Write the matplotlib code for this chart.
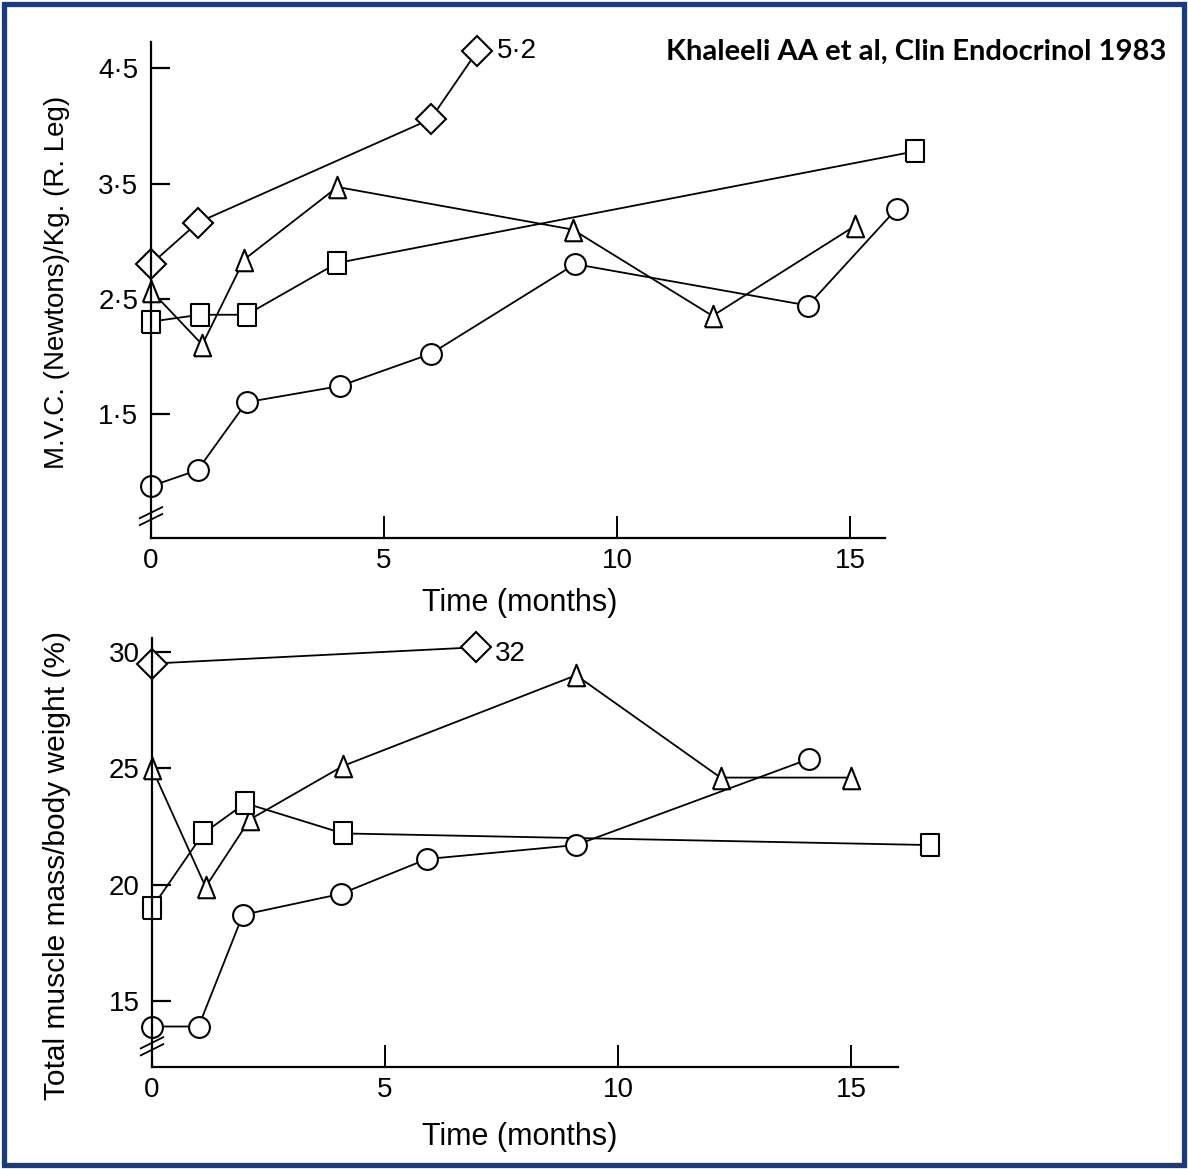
import matplotlib.pyplot as plt
from matplotlib.patches import Rectangle

plt.rcParams['font.family'] = ['Liberation Sans', 'DejaVu Sans']

# MVC per kg, right leg (top panel)
mvc_diamond_t = [0, 1, 6, 7]
mvc_diamond = [2.80, 3.16, 4.06, 4.65]
mvc_triangle_t = [0, 1.1, 2, 4, 9.05, 12.05, 15.1]
mvc_triangle = [2.57, 2.10, 2.84, 3.47, 3.10, 2.35, 3.13]
mvc_square_t = [0, 1.05, 2.05, 4, 16.4]
mvc_square = [2.30, 2.36, 2.36, 2.81, 3.78]
mvc_circle_t = [0, 1, 2.05, 4.05, 6, 9.1, 14.1, 16.0]
mvc_circle = [0.87, 1.01, 1.60, 1.74, 2.02, 2.80, 2.44, 3.28]

# total muscle mass / body weight in % (bottom panel)
mm_diamond_t = [0, 6.95]
mm_diamond = [29.5, 30.2]
mm_triangle_t = [0, 1.15, 2.1, 4.1, 9.1, 12.2, 15.0]
mm_triangle = [25.0, 19.9, 22.8, 25.1, 29.0, 24.6, 24.6]
mm_square_t = [0, 1.1, 2.0, 4.1, 16.7]
mm_square = [19.0, 22.2, 23.5, 22.2, 21.7]
mm_circle_t = [0, 1.0, 1.95, 4.05, 5.9, 9.1, 14.1]
mm_circle = [13.9, 13.9, 18.7, 19.6, 21.1, 21.7, 25.4]

top_ticks = [1.5, 2.5, 3.5, 4.5]
top_ticklabels = ['1·5', '2·5', '3·5', '4·5']
bot_ticks = [15, 20, 25, 30]
x_ticks = [0, 5, 10, 15]

W, H = 1188, 1169
fig = plt.figure(figsize=(W / 100, H / 100), dpi=100)

# navy frame round the slide
fig.patches.append(Rectangle((4 / W, 4 / H), 1 - 8 / W, 1 - 8 / H, transform=fig.transFigure,
                             fill=False, edgecolor='#1f3a78', linewidth=3.8))


def px_box(x0, y0, x1, y1):
    return [x0 / W, 1 - y1 / H, (x1 - x0) / W, (y1 - y0) / H]


# closed outlines for the narrow triangle and the slightly tall square
tri = [(-0.8, -1), (0, 1), (0.8, -1), (-0.8, -1)]
rect = [(-0.82, -1), (0.82, -1), (0.82, 1), (-0.82, 1), (-0.82, -1)]
styles = [
    dict(marker='D', ms=15),
    dict(marker=tri, ms=15.5),
    dict(marker=rect, ms=16),
    dict(marker='o', ms=15),
]


def draw_series(ax, series):
    for (t, v), st in zip(series, styles):
        ax.plot(t, v, color='black', lw=1.3, mfc='white', mec='black', mew=1.5,
                clip_on=False, **st)


def style_axes(ax, ylim, xend, brk, brk_dy):
    ax.set_xlim(0, 17.2)
    ax.set_ylim(*ylim)
    for s in ['top', 'right']:
        ax.spines[s].set_visible(False)
    ax.spines['left'].set_linewidth(1.6)
    ax.spines['bottom'].set_linewidth(1.6)
    ax.spines['bottom'].set_bounds(0, xend)
    ax.set_xticks(x_ticks)
    ax.tick_params(axis='x', direction='in', length=16, width=1.4, labelsize=20, pad=7)
    ax.tick_params(axis='y', direction='in', length=14, width=1.6, labelsize=20, pad=9)
    ax.patch.set_alpha(0)
    # break marks on the y axis
    tr = ax.get_yaxis_transform()
    for off in (0, brk_dy):
        ax.plot([-0.014, 0.014], [brk + off - brk_dy * 0.8, brk + off + brk_dy * 0.8],
                transform=tr, color='black', lw=1.3, clip_on=False)


# top panel
ax1 = fig.add_axes(px_box(151, 42, 952.5, 538))
draw_series(ax1, [(mvc_diamond_t, mvc_diamond), (mvc_triangle_t, mvc_triangle),
                  (mvc_square_t, mvc_square), (mvc_circle_t, mvc_circle)])
style_axes(ax1, (0.42, 4.73), 15.75, 0.58, 0.06)
ax1.set_yticks(top_ticks)
ax1.set_yticklabels(top_ticklabels)
ax1.annotate('5·2', (mvc_diamond_t[-1], mvc_diamond[-1]), xytext=(14, 0),
             textcoords='offset points', fontsize=20, va='center')

# bottom panel
ax2 = fig.add_axes(px_box(152, 638, 953.5, 1067))
draw_series(ax2, [(mm_diamond_t, mm_diamond), (mm_triangle_t, mm_triangle),
                  (mm_square_t, mm_square), (mm_circle_t, mm_circle)])
style_axes(ax2, (12.16, 30.6), 16.0, 12.9, 0.3)
ax2.set_yticks(bot_ticks)
ax2.annotate('32', (mm_diamond_t[-1], mm_diamond[-1]), xytext=(14, -5),
             textcoords='offset points', fontsize=20, va='center')

# axis titles
fig.text(520 / W, 1 - 603 / H, 'Time (months)', fontsize=22, ha='center', va='center')
fig.text(520 / W, 1 - 1137 / H, 'Time (months)', fontsize=22, ha='center', va='center')
fig.text(57 / W, 1 - 282 / H, 'M.V.C. (Newtons)/Kg. (R. Leg)', fontsize=20,
         rotation=90, ha='center', va='center')
fig.text(57 / W, 1 - 866 / H, 'Total muscle mass/body weight (%)', fontsize=21.5,
         rotation=90, ha='center', va='center')

fig.text(1166 / W, 1 - 52 / H, 'Khaleeli AA et al, Clin Endocrinol 1983', fontsize=21,
         fontweight='bold', family=['Lato', 'DejaVu Sans'], ha='right', va='center')

fig.savefig('out.png', dpi=100)
